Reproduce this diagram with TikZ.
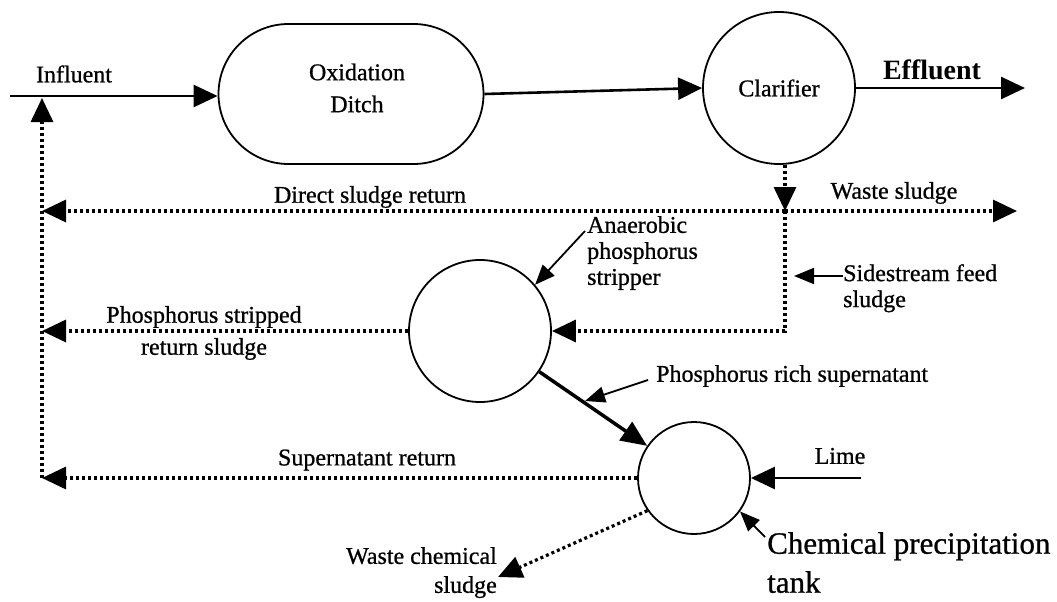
\documentclass[tikz,border=0pt]{standalone}
\usepackage{fontspec}
\setmainfont{Liberation Serif}
% slightly heavier face for the labels
\newfontfamily\heavyserif{Liberation Serif}[FakeBold=0.8]
\usetikzlibrary{arrows.meta}
\begin{document}
\begin{tikzpicture}[x=1pt,y=-1pt,
  lbl/.style={font=\heavyserif\fontsize{24}{26}\selectfont, inner sep=0pt},
  tank/.style={draw, circle, line width=1.8pt, inner sep=0pt},
  flow/.style={line width=2.6pt, -{Triangle[length=24pt,width=22pt]}},
  dots/.style={line width=3.2pt, dash pattern=on 3pt off 3pt},
  dotflow/.style={dots, -{Triangle[length=24pt,width=22pt]}},
  pointer/.style={line width=1.8pt, -{Triangle[length=20pt,width=16pt]}},
]
\useasboundingbox (0,0) rectangle (1057,602);

% process units
\node[draw, line width=1.8pt, rounded corners=70pt, minimum width=265pt, minimum height=140pt] (ditch) at (351,94) {};
\node[lbl, font=\heavyserif\fontsize{24}{32}\selectfont, align=center] (ditchtxt) at (357,88) {Oxidation\\Ditch};
\node[tank, minimum size=152pt, lbl] (clar) at (779,88) {Clarifier};
\node[tank, minimum size=142pt] (strip) at (480,331) {};
\node[tank, minimum size=112pt] (prec) at (694,478) {};

% free ends of the flow lines
\coordinate (inlet) at (10,96);
\coordinate (outlet) at (1025,88);
\coordinate (junc) at (785,211);
\coordinate (wasteend) at (1017,211);
\coordinate (retDirect) at (42,211);
\coordinate (retStrip) at (42,331);
\coordinate (retSuper) at (42,478);
\coordinate (retTop) at (42,98);
\coordinate (limeIn) at (861,478);
\coordinate (wasteChem) at (498,577);

% main line
\draw[flow] (inlet) -- (ditch.west |- inlet);
\draw[flow] (ditch.east) -- (clar.west);
\draw[flow] (clar.east) -- (outlet);

% sludge lines
\draw[dotflow] (junc |- clar.south) -- (junc);
\draw[dotflow] (junc) -- (retDirect);
\draw[dotflow] (junc) -- (wasteend);
\draw[dotflow] (junc) |- (strip.east);
\draw[dotflow] (strip.west) -- (retStrip);
\draw[dotflow] (prec.west) -- (retSuper);
\draw[dotflow] (retSuper) -- (retTop);
\draw[dotflow] (prec.215) -- (wasteChem);

% supernatant and lime
\draw[line width=3.5pt, -{Triangle[length=26pt,width=22pt]}] (strip) -- (prec);
\draw[flow] (limeIn) -- (prec.east);

% flow labels
\node[lbl] (inlbl) at (74,74) {Influent};
\node[lbl, font=\fontsize{28}{30}\selectfont\bfseries] (efflbl) at (932,70) {Effluent};
\node[lbl] (directlbl) at (370,197) {Direct sludge return};
\node[lbl] (wastelbl) at (894,193) {Waste sludge};
\node[lbl, font=\heavyserif\fontsize{24}{32}\selectfont, align=center] (pstriplbl) at (204,333) {Phosphorus stripped\\return sludge};
\node[lbl] (superlbl) at (367,460) {Supernatant return};
\node[lbl] (limelbl) at (840,456) {Lime};
\node[lbl, font=\heavyserif\fontsize{24}{29}\selectfont, align=right, anchor=north east] (wclbl) at (497,547) {Waste chemical\\sludge};

% callouts
\node[lbl, align=left, anchor=north west] (anlbl) at (587,216) {Anaerobic\\phosphorus\\stripper};
\coordinate (anTail) at (585,231);
\draw[pointer] (anTail) -- (strip.40);

\node[lbl, align=left, anchor=north west] (sidelbl) at (843,264) {Sidestream feed\\sludge};
\coordinate (sideTail) at (843,276);
\coordinate (sideTip) at (794,276);
\draw[pointer] (sideTail) -- (sideTip);

\node[lbl, anchor=west] (richlbl) at (656,376) {Phosphorus rich supernatant};
\coordinate (richTail) at (648,380);
\coordinate (richTip) at (585,401);
\draw[pointer] (richTail) -- (richTip);

\node[lbl, font=\heavyserif\fontsize{31}{39}\selectfont, align=left, anchor=north west] (chemlbl) at (767,532) {Chemical precipitation\\tank};
\coordinate (chemTail) at (765,537);
\draw[pointer] (chemTail) -- (prec.-36);
\end{tikzpicture}
\end{document}
